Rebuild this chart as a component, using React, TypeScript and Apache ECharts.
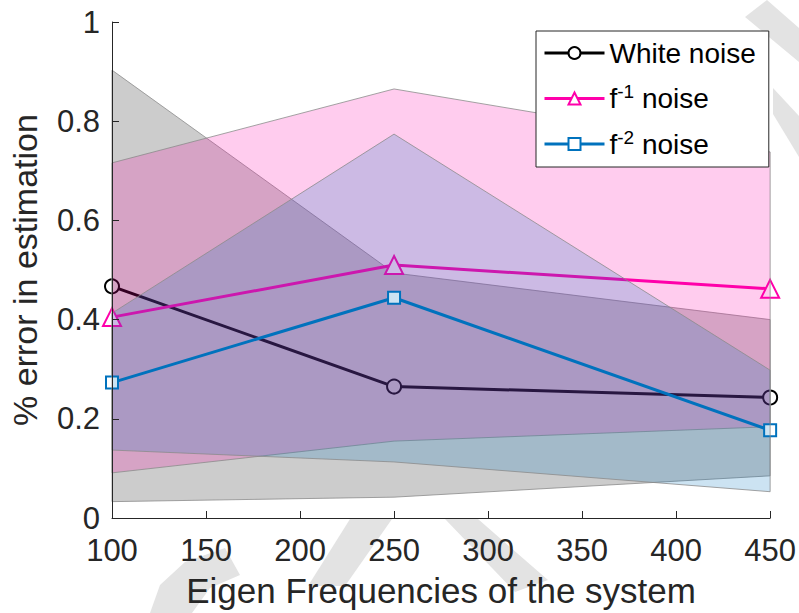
import React, { useEffect, useRef } from "react";
import * as echarts from "echarts";

// ---- data ----
const xVals = [100, 250, 450];
const whiteNoise = [0.467, 0.265, 0.243];
const f1Noise = [0.405, 0.51, 0.462];
const f2Noise = [0.273, 0.444, 0.177];

const whiteUpper = [0.903, 0.494, 0.4];
const whiteLower = [0.033, 0.042, 0.085];
const f1Upper = [0.716, 0.865, 0.738];
const f1Lower = [0.091, 0.155, 0.184];
const f2Upper = [0.413, 0.774, 0.298];
const f2Lower = [0.137, 0.113, 0.053];

const seriesNames = ["White noise", "f-1 noise", "f-2 noise"];
const xTitle = "Eigen Frequencies of the system";
const yTitle = "% error in estimation";

const FONT = "'Liberation Sans', Arial, sans-serif";
const AX = "#262626";

function pairs(ys: number[]) {
  return xVals.map((x, i) => [x, ys[i]]);
}

function band(id: string, lower: number[], upper: number[], fill: string, z: number) {
  return {
    id,
    type: "custom",
    coordinateSystem: "cartesian2d",
    silent: true,
    z,
    data: xVals.map((x, i) => [x, upper[i], lower[i]]),
    encode: { x: 0, y: [1, 2] },
    renderItem: (params: any, api: any) => {
      if (params.dataIndex !== 0) return null;
      const top = xVals.map((x, i) => api.coord([x, upper[i]]));
      const bot = xVals.map((x, i) => api.coord([x, lower[i]])).reverse();
      return {
        type: "polygon",
        shape: { points: top.concat(bot) },
        style: { fill, stroke: "#8c8c8c", lineWidth: 0.8 },
      };
    },
  };
}

function line(name: string, ys: number[], symbol: string, size: number, color: string, z: number) {
  return {
    name,
    type: "line",
    data: pairs(ys),
    symbol,
    symbolSize: size,
    lineStyle: { color, width: 3 },
    itemStyle: { color, borderWidth: 3 },
    z,
  };
}

export default function App() {
  const ref = useRef<HTMLDivElement>(null);
  useEffect(() => {
    if (!ref.current) return;
    const chart = echarts.init(ref.current, undefined, { renderer: "svg" });
    const wm = "#e3e3e3";
    chart.setOption({
      animation: false,
      backgroundColor: "#ffffff",
      textStyle: { fontFamily: FONT },
      grid: { left: 112, right: 27, top: 22, bottom: 95, containLabel: false },
      graphic: [
        { type: "polygon", z: -10, shape: { points: [[350, 519], [392, 519], [345, 586], [308, 586]] }, style: { fill: wm } },
        { type: "polygon", z: -10, shape: { points: [[445, 519], [478, 519], [548, 580], [515, 592]] }, style: { fill: wm } },
        { type: "polygon", z: -10, shape: { points: [[150, 613], [160, 585], [185, 562], [225, 548], [240, 575], [210, 588], [192, 613]] }, style: { fill: wm } },
        { type: "polygon", z: -10, shape: { points: [[745, 17], [767, 0], [799, 28], [799, 62]] }, style: { fill: wm } },
        { type: "polygon", z: -10, shape: { points: [[773, 88], [799, 116], [799, 157], [773, 114]] }, style: { fill: wm } },
      ],
      legend: {
        data: seriesNames,
        orient: "vertical",
        left: 536,
        top: 31,
        z: 20,
        padding: [8, 13, 9, 7],
        itemGap: 15,
        itemWidth: 60,
        itemHeight: 15,
        itemTextGap: 4,
        lineStyle: { width: 3 },
        backgroundColor: "#ffffff",
        borderColor: AX,
        borderWidth: 1,
        borderRadius: 0,
        formatter: (name: string) => {
          if (name === "f-1 noise") return "{a|f}{s|-1}{a| noise}";
          if (name === "f-2 noise") return "{a|f}{s|-2}{a| noise}";
          return "{a|" + name + "}";
        },
        textStyle: {
          fontFamily: FONT,
          fontSize: 28,
          color: "#000",
          rich: {
            a: { fontFamily: FONT, fontSize: 28, color: "#000", lineHeight: 30 },
            s: { fontFamily: FONT, fontSize: 19, color: "#000", padding: [0, 0, 14, 0] },
          },
        },
      },
      xAxis: {
        type: "value",
        min: 100,
        max: 450,
        interval: 50,
        name: xTitle,
        nameLocation: "middle",
        nameGap: 55,
        nameTextStyle: { fontFamily: FONT, fontSize: 35, color: AX },
        axisLine: { show: true, onZero: false, lineStyle: { color: AX, width: 1 } },
        axisTick: { show: true, inside: true, length: 7, lineStyle: { color: AX } },
        axisLabel: { fontFamily: FONT, fontSize: 31, color: AX, margin: 17 },
        splitLine: { show: false },
        z: 15,
      },
      yAxis: {
        type: "value",
        min: 0,
        max: 1,
        interval: 0.2,
        name: yTitle,
        nameLocation: "middle",
        nameGap: 70,
        nameTextStyle: { fontFamily: FONT, fontSize: 34, color: AX },
        axisLine: { show: true, onZero: false, lineStyle: { color: AX, width: 1 } },
        axisTick: { show: true, inside: true, length: 7, lineStyle: { color: AX } },
        axisLabel: { fontFamily: FONT, fontSize: 31, color: AX, margin: 12 },
        splitLine: { show: false },
        z: 15,
      },
      series: [
        line(seriesNames[0], whiteNoise, "emptyCircle", 14, "#000000", 1),
        band("bandWhite", whiteLower, whiteUpper, "rgba(0,0,0,0.2)", 2),
        line(seriesNames[1], f1Noise, "emptyTriangle", 18, "#ff00aa", 3),
        band("bandF1", f1Lower, f1Upper, "rgba(255,0,170,0.2)", 4),
        line(seriesNames[2], f2Noise, "emptyRect", 12, "#0072bd", 5),
        band("bandF2", f2Lower, f2Upper, "rgba(0,114,189,0.2)", 6),
      ],
    });
    return () => chart.dispose();
  }, []);
  return (
    <div
      ref={ref}
      style={{ position: "absolute", left: 0, top: 0, width: 799, height: 613 }}
    />
  );
}
